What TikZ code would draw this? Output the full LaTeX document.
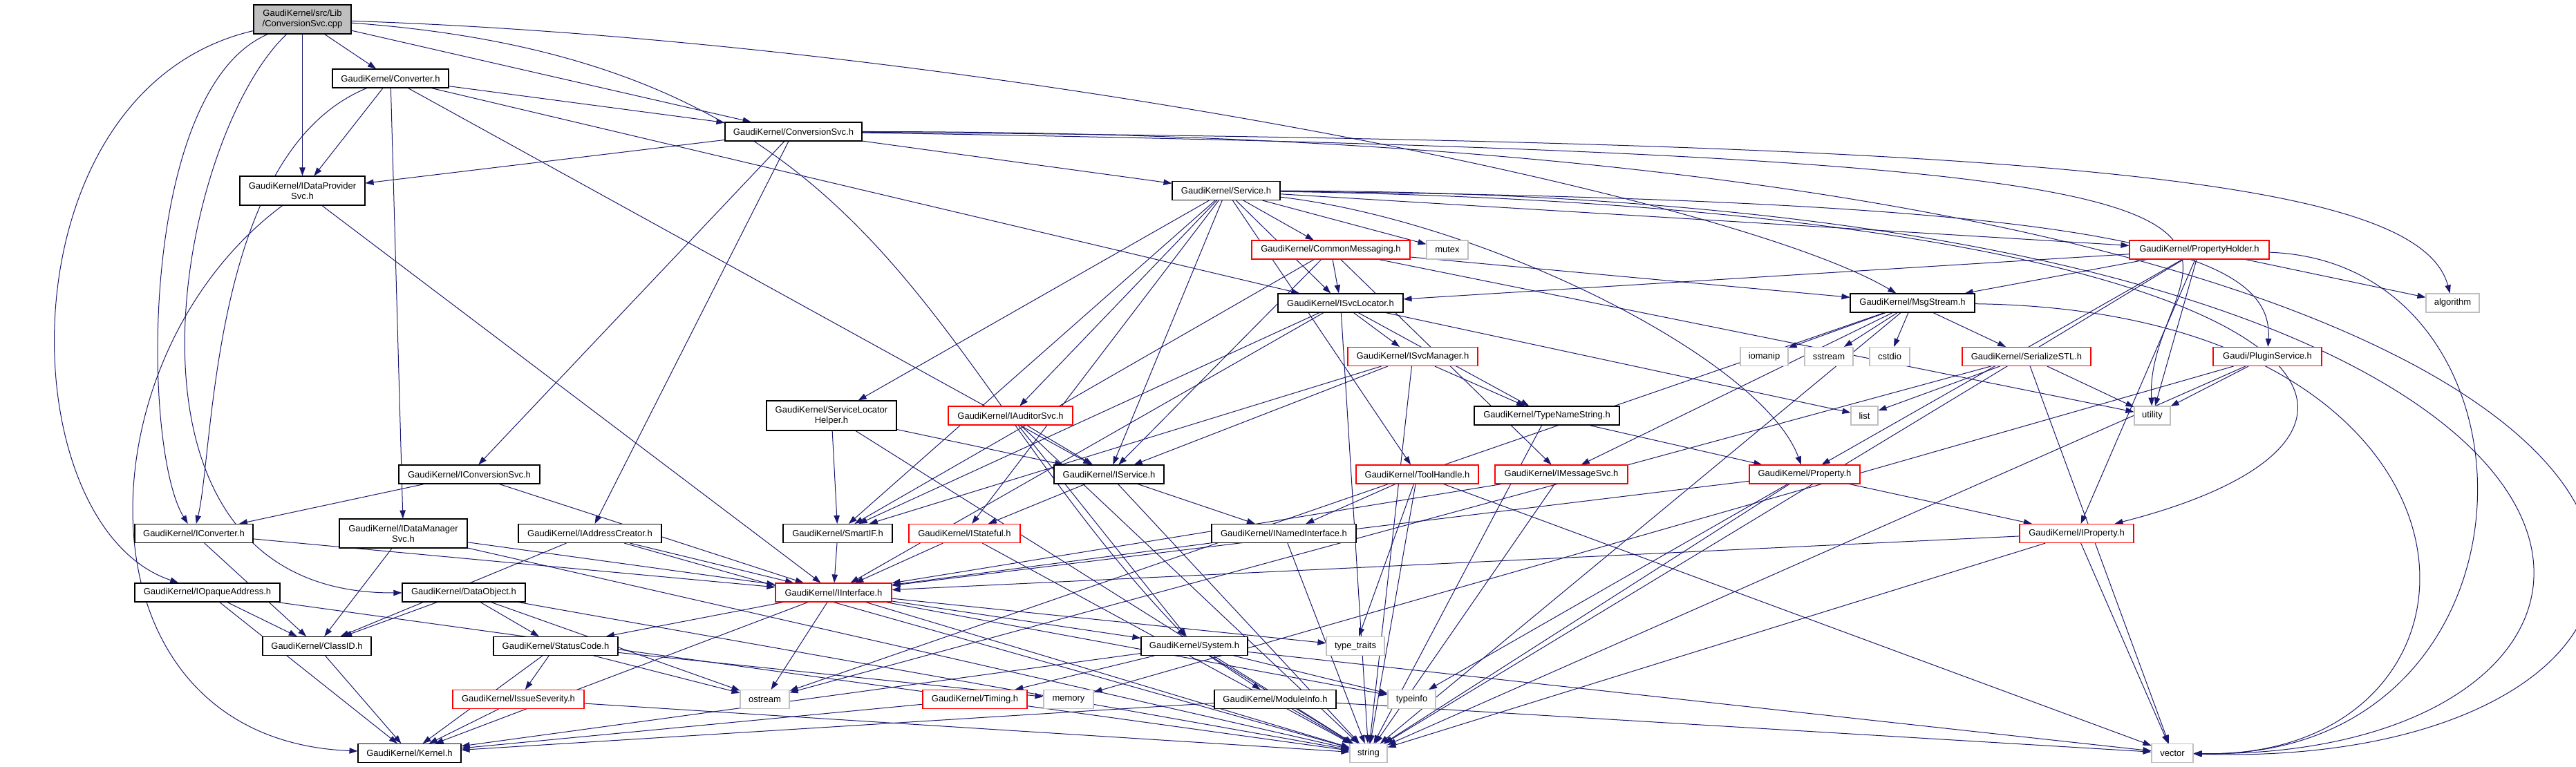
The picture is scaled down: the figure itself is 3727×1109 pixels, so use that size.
\documentclass[tikz,border=0pt]{standalone}
\usepackage{fontspec}
\setmainfont{Liberation Sans}
\usetikzlibrary{arrows.meta}
\definecolor{edgeblue}{RGB}{25,25,112}
\definecolor{sysgray}{RGB}{191,191,191}
\pgfdeclarelayer{edges}
\pgfsetlayers{edges,main}

\begin{document}
\begin{tikzpicture}[x=0.5pt,y=-0.5pt,
  hdr/.style={draw=black,fill=white,line width=0.55pt,inner sep=0pt,minimum height=13.5pt,align=center,font=\fontsize{6.5pt}{7.5pt}\selectfont},
  hdrtwo/.style={hdr,minimum height=21pt},
  hdrred/.style={hdr,draw=red},
  hdrsys/.style={hdr,draw=sysgray},
  dep/.style={draw=edgeblue,line width=0.5pt,-{Triangle[length=6pt,width=4.2pt]}}]
\useasboundingbox (0,0) rectangle (3727,1109);

\node[hdrtwo,fill=sysgray,minimum width=70.5pt] (root) at (437.5,28) {GaudiKernel/src/Lib\\/ConversionSvc.cpp};
\node[hdr,minimum width=84pt] (converter) at (565,113.5) {GaudiKernel/Converter.h};
\node[hdr,minimum width=99pt] (convsvc) at (1148,190.5) {GaudiKernel/ConversionSvc.h};
\node[hdrtwo,minimum width=90.5pt] (idataprov) at (437.5,276) {GaudiKernel/IDataProvider\\Svc.h};
\node[hdr,minimum width=78pt] (service) at (1774,276) {GaudiKernel/Service.h};

\node[hdrred,minimum width=114.5pt] (commsg) at (1925.5,361.5) {GaudiKernel/CommonMessaging.h};
\node[hdrsys,minimum width=30pt] (mutex) at (2094,361.5) {mutex};
\node[hdrred,minimum width=101pt] (propholder) at (3182,361.5) {GaudiKernel/PropertyHolder.h};

\node[hdr,minimum width=90.5pt] (isvcloc) at (1939.5,438.5) {GaudiKernel/ISvcLocator.h};
\node[hdr,minimum width=90pt] (msgstream) at (2767,438.5) {GaudiKernel/MsgStream.h};
\node[hdrsys,minimum width=38.5pt] (algorithm) at (3548.5,438.5) {algorithm};

\node[hdrred,minimum width=94pt] (isvcmgr) at (2044,516) {GaudiKernel/ISvcManager.h};
\node[hdrsys,minimum width=34.5pt] (iomanip) at (2552.5,516) {iomanip};
\node[hdrsys,minimum width=35pt] (sstream) at (2646,516) {sstream};
\node[hdrsys,minimum width=29pt] (cstdio) at (2734,516) {cstdio};
\node[hdrred,minimum width=93pt] (serialstl) at (2932,516) {GaudiKernel/SerializeSTL.h};
\node[hdrred,minimum width=78.5pt] (plugin) at (3280.5,516) {Gaudi/PluginService.h};

\node[hdrtwo,minimum width=94pt,minimum height=21.5pt] (slhelper) at (1203,601.5) {GaudiKernel/ServiceLocator\\Helper.h};
\node[hdrred,minimum width=90pt] (iauditor) at (1462,601.5) {GaudiKernel/IAuditorSvc.h};
\node[hdr,minimum width=105pt] (typename) at (2238,601.5) {GaudiKernel/TypeNameString.h};
\node[hdrsys,minimum width=19.5pt] (list) at (2697.5,601.5) {list};
\node[hdrsys,minimum width=26pt] (utility) at (3114,601.5) {utility};

\node[hdr,minimum width=102pt] (iconvsvc) at (679,686.5) {GaudiKernel/IConversionSvc.h};
\node[hdr,minimum width=79.5pt] (iservice) at (1604.5,686.5) {GaudiKernel/IService.h};
\node[hdrred,minimum width=88.5pt] (toolhandle) at (2050.5,686.5) {GaudiKernel/ToolHandle.h};
\node[hdrred,minimum width=96pt] (imsgsvc) at (2259,686.5) {GaudiKernel/IMessageSvc.h};
\node[hdrred,minimum width=80pt] (property) at (2611,686.5) {GaudiKernel/Property.h};

\node[hdr,minimum width=85.5pt] (iconverter) at (280.5,772) {GaudiKernel/IConverter.h};
\node[hdrtwo,minimum width=92.5pt] (idatamgr) at (583.5,772) {GaudiKernel/IDataManager\\Svc.h};
\node[hdr,minimum width=103.5pt] (iaddrcr) at (853.5,772) {GaudiKernel/IAddressCreator.h};
\node[hdr,minimum width=79pt] (smartif) at (1212,772) {GaudiKernel/SmartIF.h};
\node[hdrred,minimum width=80.5pt] (istateful) at (1395.5,772) {GaudiKernel/IStateful.h};
\node[hdr,minimum width=104.5pt] (inamed) at (1857.5,772) {GaudiKernel/INamedInterface.h};
\node[hdrred,minimum width=82.5pt] (iproperty) at (3004.5,772) {GaudiKernel/IProperty.h};

\node[hdr,minimum width=105pt] (iopaque) at (300,857.5) {GaudiKernel/IOpaqueAddress.h};
\node[hdr,minimum width=89pt] (dataobj) at (671,857.5) {GaudiKernel/DataObject.h};
\node[hdrred,minimum width=84pt] (iinterface) at (1206,857.5) {GaudiKernel/IInterface.h};

\node[hdr,minimum width=78.5pt] (classid) at (458.5,935) {GaudiKernel/ClassID.h};
\node[hdr,minimum width=90pt] (statuscode) at (804,935) {GaudiKernel/StatusCode.h};
\node[hdr,minimum width=77pt] (system) at (1728,935) {GaudiKernel/System.h};
\node[hdrsys,minimum width=42pt] (typetraits) at (1961,935) {type\_traits};

\node[hdrred,minimum width=95pt] (issuesev) at (750,1012) {GaudiKernel/IssueSeverity.h};
\node[hdrsys,minimum width=35.5pt] (ostream) at (1106.5,1012) {ostream};
\node[hdrred,minimum width=75.5pt] (timing) at (1410.5,1012) {GaudiKernel/Timing.h};
\node[hdrsys,minimum width=36pt] (memory) at (1546,1012) {memory};
\node[hdr,minimum width=88pt] (moduleinfo) at (1845,1012) {GaudiKernel/ModuleInfo.h};
\node[hdrsys,minimum width=34.5pt] (typeinfo) at (2042.5,1012) {typeinfo};

\node[hdr,minimum width=74.5pt] (kernel) at (592.5,1090) {GaudiKernel/Kernel.h};
\node[hdrsys,minimum width=27pt] (string) at (1980,1090) {string};
\node[hdrsys,minimum width=30pt] (vector) at (3143,1090) {vector};

\begin{pgfonlayer}{edges}
\draw[dep] (root) -- (converter);
\draw[dep] (root) -- (convsvc);
\draw[dep] (root) -- (idataprov);
\draw[dep] (root) .. controls (1400,60) and (2500,280) .. (msgstream);
\draw[dep] (root) .. controls (1290,90) and (1330,520) .. (system);
\draw[dep] (root) .. controls (200,130) and (205,650) .. (iconverter);
\draw[dep] (root) .. controls (0,130) and (10,760) .. (iopaque);
\draw[dep] (root) .. controls (255,200) and (130,860) .. (dataobj);

\draw[dep] (converter) .. controls (305,220) and (310,650) .. (iconverter);
\draw[dep] (converter) -- (idataprov);
\draw[dep] (converter) -- (idatamgr);
\draw[dep] (converter) -- (iservice);
\draw[dep] (converter) -- (isvcloc);
\draw[dep] (converter) -- (convsvc);

\draw[dep] (convsvc) -- (idataprov);
\draw[dep] (convsvc) -- (iconvsvc);
\draw[dep] (convsvc) -- (iaddrcr);
\draw[dep] (convsvc) -- (service);
\draw[dep] (convsvc) .. controls (4200,190) and (4100,1120) .. (vector);
\draw[dep] (convsvc) .. controls (3000,205) and (3500,260) .. (algorithm);
\draw[dep] (convsvc) .. controls (3650,230) and (3100,330) .. (utility);

\draw[dep] (idataprov) -- (iinterface);
\draw[dep] (idataprov) .. controls (110,520) and (100,1070) .. (kernel);

\draw[dep] (service) -- (commsg);
\draw[dep] (service) -- (mutex);
\draw[dep] (service) -- (propholder);
\draw[dep] (service) -- (isvcloc);
\draw[dep] (service) -- (slhelper);
\draw[dep] (service) -- (iauditor);
\draw[dep] (service) -- (iservice);
\draw[dep] (service) -- (smartif);
\draw[dep] (service) -- (istateful);
\draw[dep] (service) -- (toolhandle);
\draw[dep] (service) .. controls (2150,320) and (2550,520) .. (property);
\draw[dep] (service) .. controls (3050,290) and (3290,360) .. (plugin);
\draw[dep] (service) .. controls (3350,300) and (3600,620) .. (iproperty);
\draw[dep] (service) .. controls (4000,280) and (3950,1100) .. (vector);

\draw[dep] (commsg) -- (isvcloc);
\draw[dep] (commsg) -- (msgstream);
\draw[dep] (commsg) -- (iservice);
\draw[dep] (commsg) -- (smartif);
\draw[dep] (commsg) -- (imsgsvc);
\draw[dep] (commsg) -- (utility);

\draw[dep] (propholder) -- (isvcloc);
\draw[dep] (propholder) -- (msgstream);
\draw[dep] (propholder) -- (property);
\draw[dep] (propholder) -- (iproperty);
\draw[dep] (propholder) -- (algorithm);
\draw[dep] (propholder) -- (utility);
\draw[dep] (propholder) -- (string);
\draw[dep] (propholder) .. controls (3700,380) and (3700,1100) .. (vector);

\draw[dep] (isvcloc) -- (isvcmgr);
\draw[dep] (isvcloc) -- (typename);
\draw[dep] (isvcloc) -- (smartif);
\draw[dep] (isvcloc) -- (iinterface);
\draw[dep] (isvcloc) -- (string);
\draw[dep] (isvcloc) -- (list);

\draw[dep] (msgstream) -- (imsgsvc);
\draw[dep] (msgstream) -- (iomanip);
\draw[dep] (msgstream) -- (sstream);
\draw[dep] (msgstream) -- (cstdio);
\draw[dep] (msgstream) -- (serialstl);
\draw[dep] (msgstream) -- (string);
\draw[dep] (msgstream) -- (ostream);
\draw[dep] (msgstream) .. controls (3650,450) and (3650,1100) .. (vector);

\draw[dep] (isvcmgr) -- (typename);
\draw[dep] (isvcmgr) -- (iservice);
\draw[dep] (isvcmgr) -- (smartif);
\draw[dep] (isvcmgr) -- (string);

\draw[dep] (serialstl) -- (ostream);
\draw[dep] (serialstl) -- (list);
\draw[dep] (serialstl) -- (vector);
\draw[dep] (serialstl) -- (utility);

\draw[dep] (plugin) -- (utility);
\draw[dep] (plugin) -- (memory);
\draw[dep] (plugin) -- (string);

\draw[dep] (typename) -- (property);
\draw[dep] (typename) -- (string);

\draw[dep] (slhelper) -- (iservice);
\draw[dep] (slhelper) -- (smartif);
\draw[dep] (slhelper) -- (string);

\draw[dep] (iauditor) -- (iservice);
\draw[dep] (iauditor) -- (system);
\draw[dep] (iauditor) -- (string);

\draw[dep] (iconvsvc) -- (iconverter);
\draw[dep] (iconvsvc) -- (iinterface);

\draw[dep] (iservice) -- (istateful);
\draw[dep] (iservice) -- (inamed);
\draw[dep] (iservice) -- (string);

\draw[dep] (toolhandle) -- (inamed);
\draw[dep] (toolhandle) -- (typetraits);
\draw[dep] (toolhandle) -- (string);
\draw[dep] (toolhandle) -- (vector);

\draw[dep] (imsgsvc) -- (iinterface);
\draw[dep] (imsgsvc) -- (string);

\draw[dep] (property) -- (iproperty);
\draw[dep] (property) -- (iinterface);
\draw[dep] (property) -- (typeinfo);
\draw[dep] (property) -- (string);

\draw[dep] (iconverter) -- (classid);
\draw[dep] (iconverter) -- (iinterface);
\draw[dep] (idatamgr) -- (classid);
\draw[dep] (idatamgr) -- (iinterface);
\draw[dep] (idatamgr) -- (string);
\draw[dep] (iaddrcr) -- (classid);
\draw[dep] (iaddrcr) -- (iinterface);
\draw[dep] (iaddrcr) -- (string);
\draw[dep] (smartif) -- (iinterface);
\draw[dep] (istateful) -- (iinterface);
\draw[dep] (istateful) -- (string);
\draw[dep] (inamed) -- (iinterface);
\draw[dep] (inamed) -- (string);
\draw[dep] (iproperty) -- (iinterface);
\draw[dep] (iproperty) -- (string);
\draw[dep] (iproperty) -- (vector);

\draw[dep] (iopaque) -- (classid);
\draw[dep] (iopaque) -- (kernel);
\draw[dep] (iopaque) -- (string);
\draw[dep] (dataobj) -- (classid);
\draw[dep] (dataobj) -- (statuscode);
\draw[dep] (dataobj) -- (string);
\draw[dep] (dataobj) -- (ostream);

\draw[dep] (iinterface) -- (statuscode);
\draw[dep] (iinterface) -- (kernel);
\draw[dep] (iinterface) -- (ostream);
\draw[dep] (iinterface) -- (system);
\draw[dep] (iinterface) -- (typetraits);
\draw[dep] (iinterface) -- (typeinfo);
\draw[dep] (iinterface) -- (string);

\draw[dep] (classid) -- (kernel);
\draw[dep] (statuscode) -- (issuesev);
\draw[dep] (statuscode) -- (kernel);
\draw[dep] (statuscode) -- (ostream);
\draw[dep] (statuscode) -- (memory);

\draw[dep] (system) -- (timing);
\draw[dep] (system) -- (kernel);
\draw[dep] (system) -- (string);
\draw[dep] (system) -- (moduleinfo);
\draw[dep] (system) -- (typeinfo);
\draw[dep] (system) -- (vector);

\draw[dep] (issuesev) -- (kernel);
\draw[dep] (issuesev) -- (string);
\draw[dep] (timing) -- (kernel);
\draw[dep] (moduleinfo) -- (kernel);
\draw[dep] (moduleinfo) -- (string);
\draw[dep] (moduleinfo) -- (vector);
\end{pgfonlayer}

\end{tikzpicture}
\end{document}
